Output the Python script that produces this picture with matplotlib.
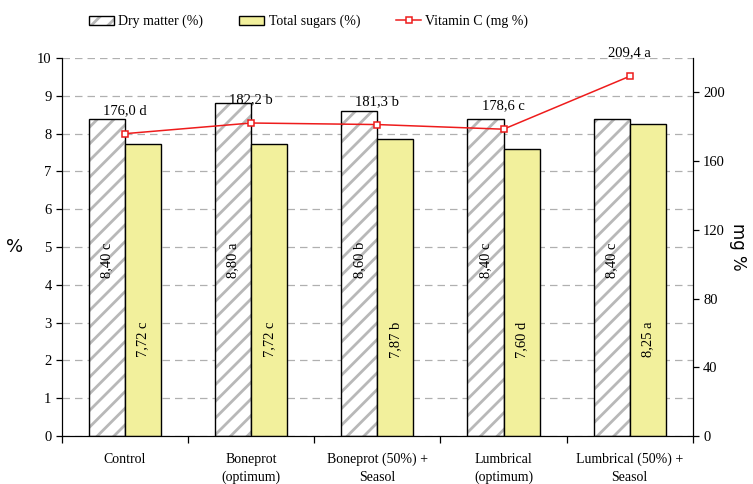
import matplotlib
matplotlib.use("Agg")
import matplotlib.pyplot as plt
import numpy as np

# data
categories = ["Control", "Boneprot\n(optimum)", "Boneprot (50%) +\nSeasol",
              "Lumbrical\n(optimum)", "Lumbrical (50%) +\nSeasol"]
dry_matter = [8.40, 8.80, 8.60, 8.40, 8.40]
dry_letters = ["c", "a", "b", "c", "c"]
sugars = [7.72, 7.72, 7.87, 7.60, 8.25]
sugar_letters = ["c", "c", "b", "d", "a"]
vitamin_c = [176.0, 182.2, 181.3, 178.6, 209.4]
vit_letters = ["d", "b", "b", "c", "a"]

def fmt(v, nd):
    return ("{:.%df}" % nd).format(v).replace(".", ",")

plt.rcParams["font.family"] = ["Liberation Serif", "DejaVu Serif"]
plt.rcParams["hatch.linewidth"] = 2.0
plt.rcParams["hatch.color"] = "#b8b8b8"

fig = plt.figure(figsize=(7.53, 4.84), dpi=100)
ax = fig.add_axes([0.0823, 0.0992, 0.8377, 0.7808])
ax2 = ax.twinx()

x = np.arange(len(categories))
w = 0.286

hatched = ax.bar(x - w / 2, dry_matter, w, color="white", edgecolor="#b8b8b8",
                 hatch="//", linewidth=0, zorder=2)
outline = ax.bar(x - w / 2, dry_matter, w, color="none", edgecolor="black",
                 linewidth=1.0, zorder=3)
sug = ax.bar(x + w / 2, sugars, w, color="#f2f09c", edgecolor="black",
             linewidth=1.0, zorder=3)

for i in range(len(x)):
    ax.text(x[i] - w / 2, 4.65, fmt(dry_matter[i], 2) + " " + dry_letters[i],
            rotation=90, ha="center", va="center", fontsize=10.5, zorder=4)
    ax.text(x[i] + w / 2, 2.55, fmt(sugars[i], 2) + " " + sugar_letters[i],
            rotation=90, ha="center", va="center", fontsize=10.5, zorder=4)

ax.set_xlim(-0.5, len(x) - 0.5)
ax.set_ylim(0, 10)
ax.set_yticks(np.arange(0, 11, 1))
ax.yaxis.grid(True, linestyle=(0, (6, 4)), color="#b0b0b0", linewidth=0.9)
ax.set_axisbelow(True)
ax.set_xticks(x)
ax.set_xticklabels(categories, fontsize=10, linespacing=1.45)
ax.set_xticks(np.arange(-0.5, len(x), 1), minor=True)
ax.tick_params(axis="x", which="major", length=0, pad=12)
ax.tick_params(axis="x", which="minor", length=5, width=0.9)
ax.tick_params(axis="y", length=4, width=0.9, labelsize=10.5)
ax.set_ylabel("%", family="DejaVu Sans", fontsize=13, rotation=0, labelpad=16,
              va="center")
ax.spines["top"].set_visible(False)

line, = ax2.plot(x, vitamin_c, color="#ee1c1c", linewidth=1.1, marker="s",
                 markersize=4, markerfacecolor="white", markeredgecolor="#ee1c1c",
                 markeredgewidth=1.1, zorder=5)
for i in range(len(x)):
    ax2.annotate(fmt(vitamin_c[i], 1) + " " + vit_letters[i], (x[i], vitamin_c[i]),
                 xytext=(0, 12), textcoords="offset points", ha="center",
                 va="bottom", fontsize=10.5)
ax2.set_ylim(0, 220)
ax2.set_yticks(np.arange(0, 201, 40))
ax2.tick_params(axis="y", length=4, width=0.9, labelsize=10.5)
ax2.set_ylabel("mg %", family="DejaVu Sans", fontsize=12, rotation=270,
               labelpad=16)
ax2.spines["top"].set_visible(False)
ax.set_zorder(ax2.get_zorder() - 1)
ax2.patch.set_visible(False)

fig.legend([(hatched[0], outline[0]), sug[0], line],
           ["Dry matter (%)", "Total sugars (%)", "Vitamin C (mg %)"],
           loc="upper center", bbox_to_anchor=(0.41, 0.995),
           ncol=3, frameon=False, fontsize=10, columnspacing=2.6,
           handlelength=1.8, handleheight=0.7, handletextpad=0.3)

fig.savefig("out.png", dpi=100)
